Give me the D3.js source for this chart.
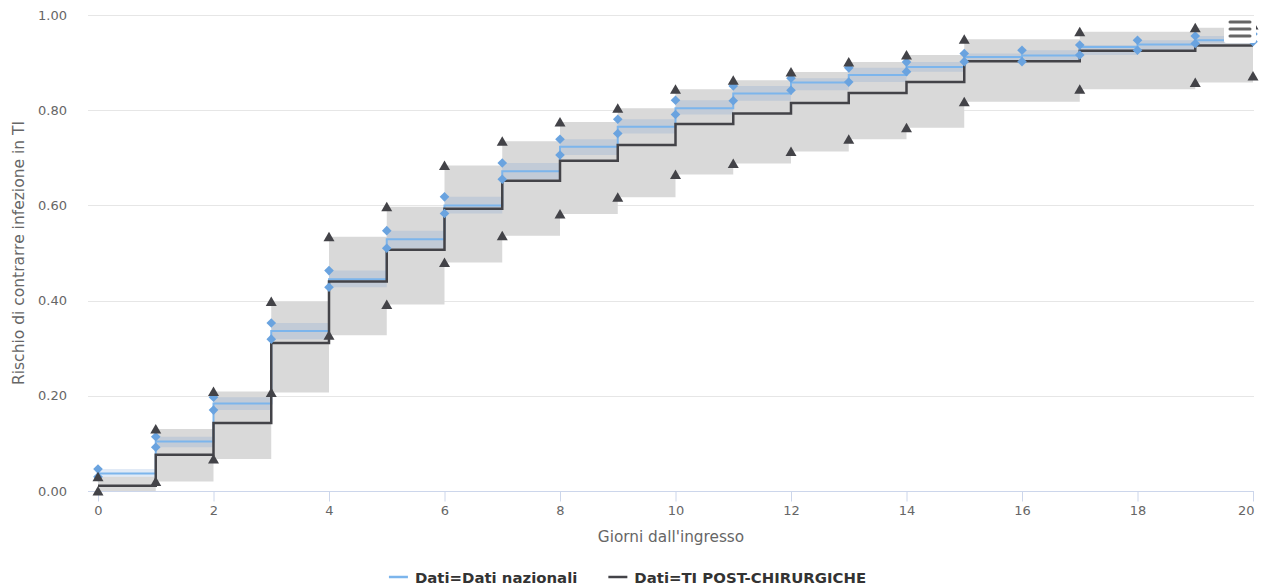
<!DOCTYPE html>
<html>
<head>
<meta charset="utf-8">
<script src="https://cdn.jsdelivr.net/npm/d3@7"></script>
<style>
  html, body { margin: 0; padding: 0; background: #ffffff; }
  svg { display: block; font-family: "DejaVu Sans", sans-serif; }
</style>
</head>
<body>
<svg id="chart" width="1263" height="588"></svg>
<script>
// ---- data ----
const natDays = [0,1,2,3,4,5,6,7,8,9,10,11,12,13,14,15,16,17,18,19,20];
const natEst  = [0.037,0.104,0.184,0.336,0.445,0.529,0.600,0.672,0.723,0.765,0.804,0.835,0.858,0.874,0.891,0.912,0.915,0.933,0.938,0.947,0.952];
const natLow  = [0.030,0.092,0.170,0.319,0.428,0.510,0.583,0.655,0.706,0.751,0.791,0.820,0.842,0.859,0.881,0.902,0.902,0.916,0.926,0.940,0.944];
const natHigh = [0.046,0.114,0.197,0.353,0.463,0.547,0.618,0.689,0.739,0.781,0.821,0.851,0.867,0.889,0.901,0.919,0.926,0.937,0.947,0.956,0.960];

const tiDays = [0,1,2,3,4,5,6,7,8,9,10,11,12,13,14,15,17,19,20];
const tiEst  = [0.011,0.076,0.143,0.311,0.440,0.507,0.593,0.652,0.694,0.727,0.771,0.793,0.815,0.836,0.859,0.903,0.925,0.936,0.936];
const tiLow  = [0.000,0.020,0.067,0.207,0.327,0.392,0.480,0.536,0.582,0.617,0.665,0.688,0.713,0.739,0.763,0.818,0.844,0.858,0.872];
const tiHigh = [0.030,0.130,0.209,0.398,0.534,0.597,0.684,0.735,0.775,0.804,0.844,0.863,0.880,0.901,0.916,0.949,0.965,0.973,0.979];

const xTicks = [0,2,4,6,8,10,12,14,16,18,20];
const yTicks = [0,0.2,0.4,0.6,0.8,1.0];
const seriesNames = ["Dati=Dati nazionali", "Dati=TI POST-CHIRURGICHE"];
const xTitle = "Giorni dall'ingresso";
const yTitle = "Rischio di contrarre infezione in TI";

// ---- layout ----
const svg = d3.select("#chart");
const plotL = 88, plotR = 1254, plotT = 15, plotB = 491;
const x = d3.scaleLinear().domain([0, 20]).range([98, 1253]);
const y = d3.scaleLinear().domain([0, 1]).range([plotB, plotT]);

const natColor = "#7cb5ec", natMarker = "#6aa3df", tiColor = "#434348";

// gridlines
svg.append("g").selectAll("line").data(yTicks.filter(d => d > 0)).join("line")
  .attr("x1", plotL).attr("x2", plotR)
  .attr("y1", d => Math.round(y(d)) + 0.5).attr("y2", d => Math.round(y(d)) + 0.5)
  .attr("stroke", "#e6e6e6").attr("stroke-width", 1);

// y labels
svg.append("g").selectAll("text").data(yTicks).join("text")
  .attr("x", 67).attr("y", d => y(d) + 4.5)
  .attr("text-anchor", "end").attr("font-size", 13).attr("fill", "#666666")
  .text(d => d3.format(".2f")(d));

// x axis
const xAxis = d3.axisBottom(x).tickValues(xTicks).tickSize(10).tickPadding(4).tickFormat(d3.format("d"));
const gx = svg.append("g").attr("transform", `translate(0,${plotB + 0.5})`).call(xAxis);
gx.select(".domain").remove();
gx.selectAll(".tick line").attr("stroke", "#ccd6eb");
gx.selectAll(".tick text").attr("font-size", 13).attr("fill", "#666666")
  .attr("font-family", "DejaVu Sans, sans-serif");
gx.selectAll(".tick text").filter(d => d === 20).attr("text-anchor", "end").attr("dx", 1);
svg.append("line").attr("x1", plotL).attr("x2", plotR).attr("y1", plotB + 0.5).attr("y2", plotB + 0.5)
  .attr("stroke", "#ccd6eb").attr("stroke-width", 1);

// axis titles
svg.append("text").attr("x", (plotL + plotR) / 2).attr("y", 541.5)
  .attr("text-anchor", "middle").attr("font-size", 15.3).attr("fill", "#666666").text(xTitle);
svg.append("text").attr("transform", `translate(24,${(plotT + plotB) / 2}) rotate(-90)`)
  .attr("text-anchor", "middle").attr("font-size", 15.5).attr("fill", "#666666").text(yTitle);

// data tables
const nat = natDays.map((d, i) => ({ d, e: natEst[i], lo: natLow[i], hi: natHigh[i] }));
const ti = tiDays.map((d, i) => ({ d, e: tiEst[i], lo: tiLow[i], hi: tiHigh[i] }));

const band = d3.area().curve(d3.curveStepAfter).x(p => x(p.d)).y0(p => y(p.lo)).y1(p => y(p.hi));
const line = d3.line().curve(d3.curveStepAfter).x(p => x(p.d)).y(p => y(p.e));

const plot = svg.append("g");
plot.append("path").attr("d", band(ti)).attr("fill", "#d9d9d9");
plot.append("path").attr("d", band(nat)).attr("fill", "rgba(107,152,212,0.2)");
plot.append("path").attr("d", line(nat)).attr("fill", "none").attr("stroke", natColor).attr("stroke-width", 2);
plot.append("path").attr("d", line(ti)).attr("fill", "none").attr("stroke", tiColor).attr("stroke-width", 2.5);

// markers
const diamondPath = "M0,-4.8L4.8,0L0,4.8L-4.8,0Z";
const natPts = nat.flatMap(p => [{ d: p.d, v: p.lo }, { d: p.d, v: p.hi }]);
plot.append("g").selectAll("path").data(natPts).join("path")
  .attr("d", diamondPath).attr("transform", p => `translate(${x(p.d)},${y(p.v)})`)
  .attr("fill", natMarker);
const triPath = "M0,-5L5.5,4.5L-5.5,4.5Z";
const tiPts = ti.flatMap(p => [{ d: p.d, v: p.lo }, { d: p.d, v: p.hi }]);
plot.append("g").selectAll("path").data(tiPts).join("path")
  .attr("d", triPath).attr("transform", p => `translate(${x(p.d)},${y(p.v)})`)
  .attr("fill", tiColor);

// export menu button
const menu = svg.append("g");
menu.append("rect").attr("x", 1224).attr("y", 16).attr("width", 32).attr("height", 27).attr("rx", 2).attr("fill", "#ffffff");
[22, 29, 36].forEach(yy => {
  menu.append("line").attr("x1", 1230).attr("x2", 1250).attr("y1", yy).attr("y2", yy)
    .attr("stroke", "#666666").attr("stroke-width", 3).attr("stroke-linecap", "round");
});

// legend
const legend = svg.append("g");
const legColors = [natColor, tiColor];
const items = [];
seriesNames.forEach((name, i) => {
  const g = legend.append("g");
  g.append("line").attr("x1", 0).attr("x2", 19).attr("y1", 0).attr("y2", 0)
    .attr("stroke", legColors[i]).attr("stroke-width", 2.5);
  const t = g.append("text").attr("x", 26).attr("y", 5.5).attr("font-size", 14.9)
    .attr("font-weight", "bold").attr("fill", "#333333").text(name);
  const w = 26 + t.node().getComputedTextLength();
  items.push({ g, w });
});
const gap = 31;
const total = items.reduce((s, it) => s + it.w, 0) + gap * (items.length - 1);
let start = 627.5 - total / 2;
items.forEach(it => {
  it.g.attr("transform", `translate(${start},577)`);
  start += it.w + gap;
});
</script>
</body>
</html>
